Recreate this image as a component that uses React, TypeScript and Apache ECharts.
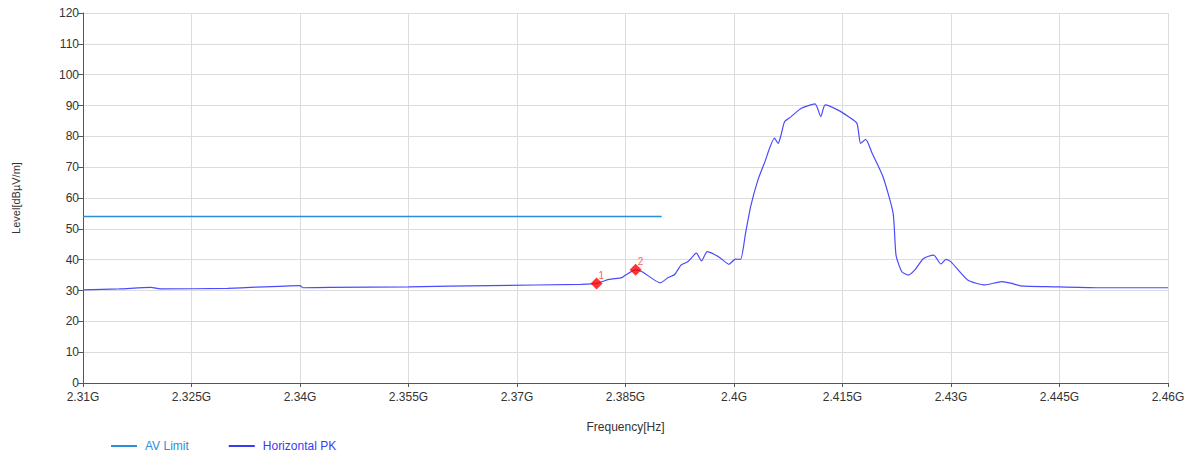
import React, { useEffect, useRef } from "react";
import * as echarts from "echarts";

// Frequency in GHz, level in dBµV/m
const pkFreq = [
  2.3100, 2.3150, 2.3194, 2.3207, 2.3300, 2.3400, 2.3404, 2.3441, 2.3550, 2.3663,
  2.3789, 2.3810, 2.3827, 2.3845, 2.3850, 2.3864, 2.3873, 2.3898, 2.3909, 2.3918,
  2.3927, 2.3936, 2.3948, 2.3955, 2.3963, 2.3973, 2.3982, 2.3993, 2.4002, 2.4009,
  2.4016, 2.4023, 2.4033, 2.4042, 2.4056, 2.4061, 2.4065, 2.4070, 2.4079, 2.4093,
  2.4112, 2.4120, 2.4126, 2.4144, 2.4158, 2.4170, 2.4175, 2.4182, 2.4191, 2.4206,
  2.4220, 2.4224, 2.4232, 2.4241, 2.4250, 2.4262, 2.4276, 2.4286, 2.4293, 2.4300,
  2.4323, 2.4347, 2.4370, 2.4384, 2.4396, 2.4441, 2.4502, 2.4600,
];
const pkLevel = [
  30.2, 30.5, 31.0, 30.5, 30.7, 31.6, 30.9, 31.0, 31.2, 31.6,
  32.0, 32.3, 33.6, 34.2, 35.0, 36.7, 36.1, 32.5, 34.2, 35.2,
  38.3, 39.3, 42.1, 39.6, 42.6, 41.7, 40.4, 38.5, 40.2, 40.1,
  48.6, 57.2, 65.8, 71.3, 79.4, 77.7, 80.4, 84.8, 86.4, 89.1,
  90.5, 86.4, 90.2, 88.5, 86.4, 84.2, 77.7, 79.0, 74.5, 66.9,
  55.0, 41.5, 36.1, 35.0, 36.7, 40.4, 41.5, 38.6, 40.1, 39.3,
  33.4, 31.8, 32.9, 32.3, 31.5, 31.2, 30.9, 30.9,
];
const limitFreq = [2.31, 2.39];
const limitLevel = [54, 54];
const markerNames = ["1", "2"];
const markerFreq = [2.381, 2.3864];
const markerLevel = [32.3, 36.7];

const xMin = 2310; // MHz
const xMax = 2460;
const xStep = 15;
const yMin = 0;
const yMax = 120;
const yStep = 10;

const FONT = "'Liberation Sans', Arial, sans-serif";
const LIMIT_COLOR = "#2a8fd8";
const PK_COLOR = "#3b3bf2";

export default function App() {
  const ref = useRef<HTMLDivElement>(null);
  useEffect(() => {
    document.body.style.margin = "0";
    const chart = echarts.init(ref.current!, undefined, { renderer: "svg" });
    const toMHz = (g: number) => Math.round(g * 1e6) / 1e3;
    chart.setOption({
      animation: false,
      textStyle: { fontFamily: FONT },
      grid: { left: 83, right: 26, top: 13, bottom: 71 },
      legend: {
        left: 111,
        top: 440,
        icon: "rect",
        itemWidth: 26,
        itemHeight: 2,
        itemGap: 40,
        padding: 0,
        data: [
          { name: "AV Limit", textStyle: { color: LIMIT_COLOR } },
          { name: "Horizontal PK", textStyle: { color: PK_COLOR } },
        ],
        textStyle: { fontFamily: FONT, fontSize: 12, padding: [0, 0, 0, 3] },
      },
      xAxis: {
        type: "value",
        min: xMin,
        max: xMax,
        interval: xStep,
        name: "Frequency[Hz]",
        nameLocation: "middle",
        nameGap: 38,
        nameTextStyle: { color: "#333", fontSize: 12, fontFamily: FONT },
        axisLine: { lineStyle: { color: "#555", width: 1 } },
        axisTick: { show: true, length: 4, lineStyle: { color: "#555" } },
        axisLabel: {
          color: "#333",
          fontSize: 12,
          margin: 8,
          formatter: (v: number) => `${parseFloat((v / 1000).toFixed(3))}G`,
        },
        splitLine: { show: true, lineStyle: { color: "#dcdcdc", width: 1 } },
      },
      yAxis: {
        type: "value",
        min: yMin,
        max: yMax,
        interval: yStep,
        name: "Level[dBµV/m]",
        nameLocation: "middle",
        nameGap: 62,
        nameTextStyle: { color: "#333", fontSize: 11, fontFamily: FONT },
        axisLine: { show: true, lineStyle: { color: "#555", width: 1 } },
        axisTick: { show: true, length: 5, lineStyle: { color: "#555" } },
        axisLabel: { color: "#333", fontSize: 12, margin: 4 },
        splitLine: { show: true, lineStyle: { color: "#dcdcdc", width: 1 } },
      },
      series: [
        {
          name: "AV Limit",
          type: "line",
          symbol: "none",
          color: LIMIT_COLOR,
          lineStyle: { color: LIMIT_COLOR, width: 1.5 },
          data: limitFreq.map((f, i) => [toMHz(f), limitLevel[i]]),
          z: 3,
        },
        {
          name: "Horizontal PK",
          type: "line",
          symbol: "none",
          smooth: 0.2,
          color: PK_COLOR,
          lineStyle: { color: "#4a4aff", width: 1.2 },
          data: pkFreq.map((f, i) => [toMHz(f), pkLevel[i]]),
          z: 4,
        },
        {
          name: "Markers",
          type: "scatter",
          symbol: "diamond",
          symbolSize: 12,
          itemStyle: { color: "#ff0000" },
          label: {
            show: true,
            position: [8, -7],
            color: "#ff3030",
            fontSize: 10,
            fontFamily: FONT,
            formatter: (p: any) => markerNames[p.dataIndex],
          },
          data: markerFreq.map((f, i) => [toMHz(f), markerLevel[i]]),
          z: 5,
        },
      ],
    });
    return () => chart.dispose();
  }, []);
  return <div ref={ref} style={{ width: 1194, height: 454 }} />;
}
